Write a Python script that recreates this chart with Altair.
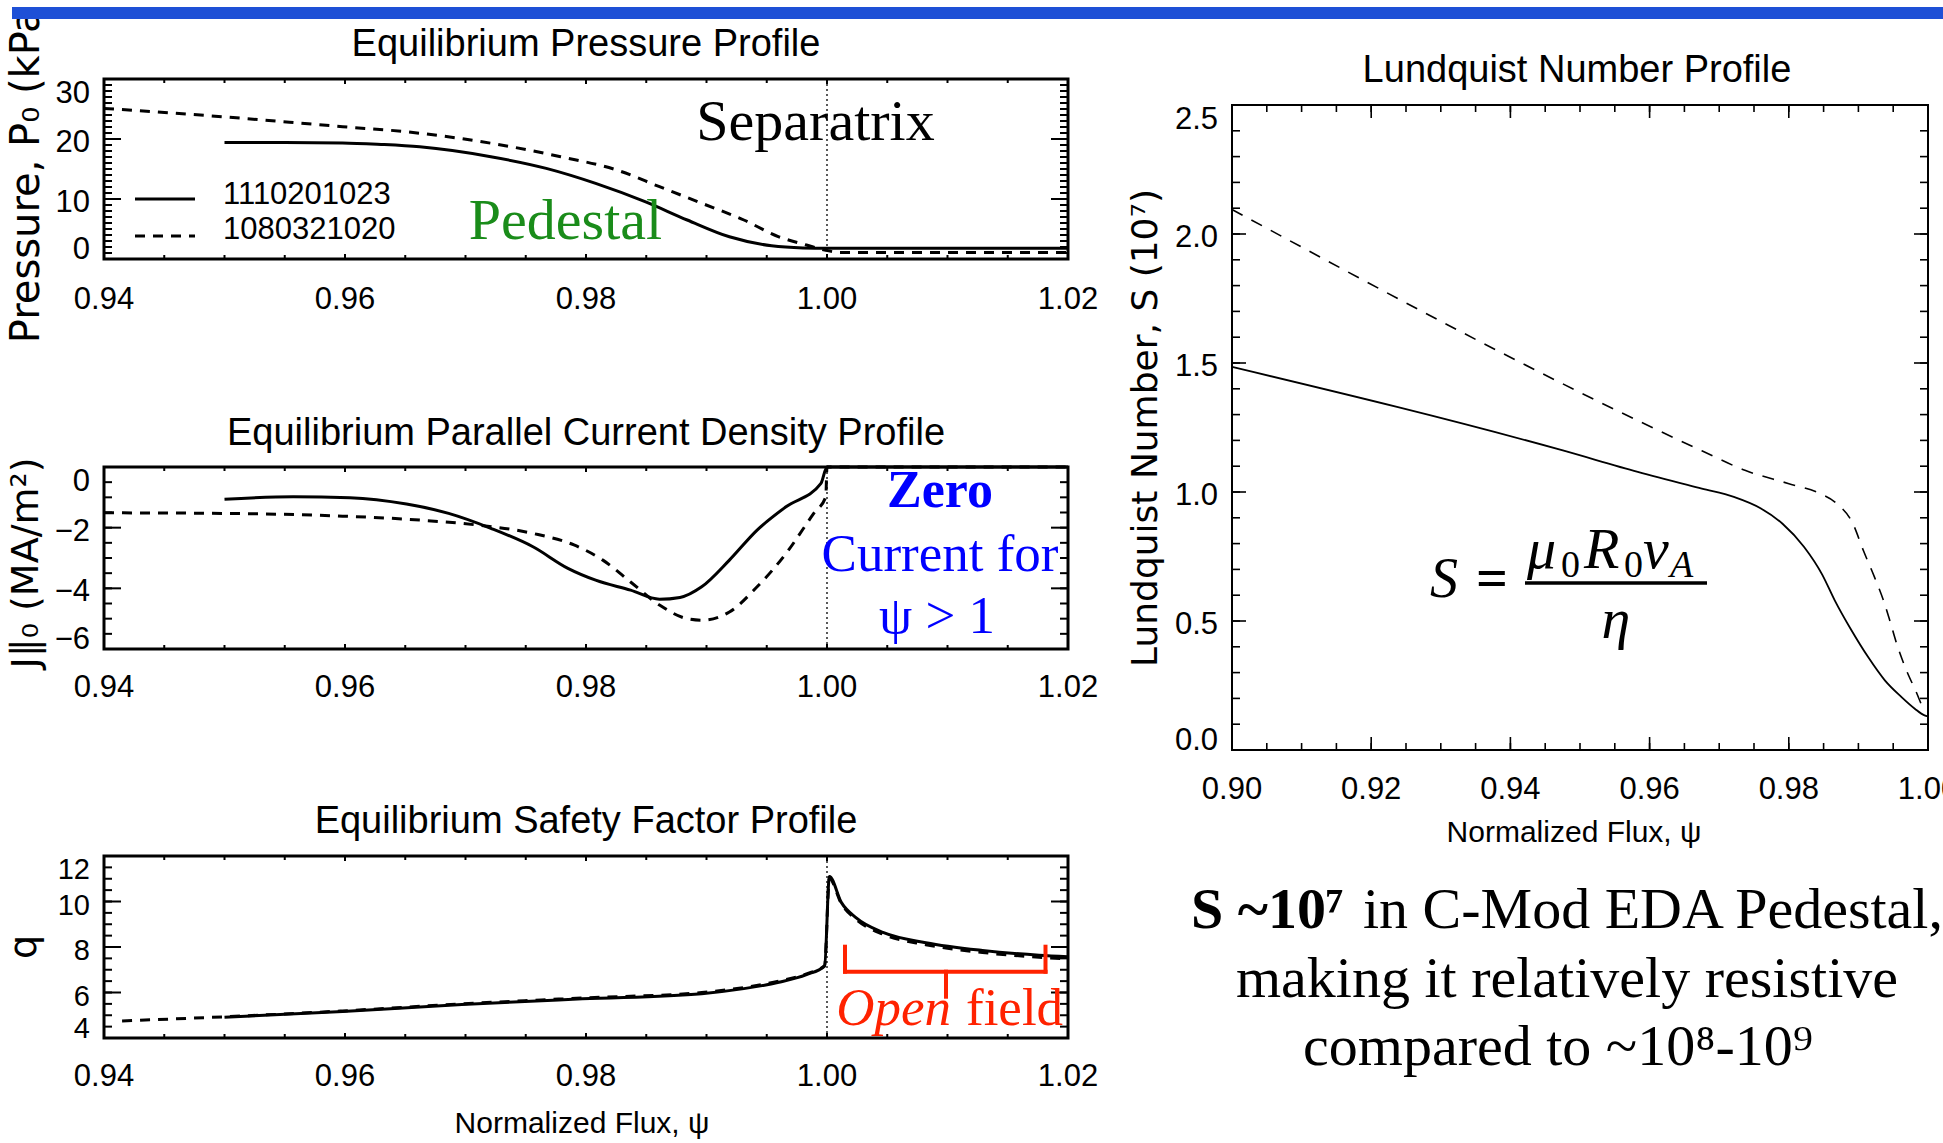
import altair as alt
import pandas as pd

# ---------------- data ----------------
# Equilibrium pressure profile (kPa) vs normalized flux
P_SOLID_PSI = [0.9500, 0.9550, 0.9598, 0.9630, 0.9662, 0.9721, 0.9767, 0.9808, 0.9849, 0.9884, 0.9919, 0.9954, 0.9980, 1.0000, 1.0200]
P_SOLID_VAL = [19.4, 19.4, 19.35, 19.1, 18.7, 17.05, 15.1, 12.6, 9.55, 6.5, 3.7, 2.2, 1.85, 1.8, 1.8]
P_DASH_PSI = [0.9400, 0.9499, 0.9598, 0.9651, 0.9721, 0.9779, 0.9826, 0.9861, 0.9896, 0.9931, 0.9960, 0.9983, 0.9998, 1.0010, 1.0200]
P_DASH_VAL = [25.1, 23.7, 22.05, 21.2, 19.3, 17.05, 14.8, 12.05, 9.3, 6.5, 3.7, 2.33, 1.5, 1.1, 1.1]

# Equilibrium parallel current density (MA/m^2)
J_SOLID_PSI = [0.9500, 0.9557, 0.9604, 0.9651, 0.9686, 0.9721, 0.9756, 0.9785, 0.9808, 0.9837, 0.9861, 0.9878, 0.9896, 0.9919, 0.9942, 0.9966, 0.9995, 1.0000, 1.0200]
J_SOLID_VAL = [-1.06, -0.98, -1.01, -1.22, -1.53, -2.02, -2.63, -3.34, -3.73, -4.06, -4.36, -4.30, -3.95, -3.07, -2.08, -1.31, -0.54, 0.0, 0.0]
J_DASH_PSI = [0.9400, 0.9499, 0.9598, 0.9662, 0.9709, 0.9756, 0.9790, 0.9814, 0.9837, 0.9861, 0.9884, 0.9896, 0.9919, 0.9942, 0.9966, 0.9989, 0.9999, 1.0000, 1.0200]
J_DASH_VAL = [-1.51, -1.53, -1.62, -1.75, -1.91, -2.19, -2.57, -3.07, -3.79, -4.55, -5.00, -5.05, -4.78, -3.95, -2.85, -1.53, -0.98, 0.0, 0.0]

# Equilibrium safety factor q
Q_SOLID_PSI = [0.9500, 0.9598, 0.9697, 0.9797, 0.9896, 0.9931, 0.9960, 0.9983, 0.9998, 1.0002, 1.0012, 1.0024, 1.0047, 1.0082, 1.0129, 1.0176, 1.0200]
Q_SOLID_VAL = [4.91, 5.17, 5.47, 5.72, 5.95, 6.17, 6.45, 6.79, 7.16, 11.10, 9.95, 9.29, 8.63, 8.19, 7.85, 7.64, 7.57]
Q_DASH_PSI = [0.9415, 0.9499, 0.9598, 0.9697, 0.9797, 0.9896, 0.9931, 0.9960, 0.9983, 0.9998, 1.0002, 1.0012, 1.0024, 1.0047, 1.0082, 1.0129, 1.0176, 1.0200]
Q_DASH_VAL = [4.75, 4.93, 5.19, 5.50, 5.76, 6.00, 6.22, 6.50, 6.82, 7.18, 11.0, 9.90, 9.22, 8.55, 8.10, 7.76, 7.55, 7.48]

# Lundquist number S (units of 1e7)
S_SOLID_PSI = [0.9000, 0.9474, 0.9583, 0.9675, 0.9721, 0.9760, 0.9791, 0.9822, 0.9848, 0.9866, 0.9890, 0.9914, 0.9938, 0.9962, 0.9981, 0.9995, 1.0000]
S_SOLID_VAL = [1.485, 1.162, 1.078, 1.013, 0.981, 0.936, 0.877, 0.787, 0.680, 0.580, 0.464, 0.360, 0.270, 0.205, 0.160, 0.134, 0.130]
S_DASH_PSI = [0.9000, 0.9675, 0.9737, 0.9799, 0.9845, 0.9869, 0.9892, 0.9907, 0.9923, 0.9936, 0.9945, 0.9955, 0.9969, 0.9984, 0.9991]
S_DASH_VAL = [2.095, 1.160, 1.084, 1.033, 0.994, 0.955, 0.878, 0.774, 0.671, 0.580, 0.503, 0.412, 0.309, 0.219, 0.173]

SHOTS = ["1110201023", "1080321020"]

# tick values
LEFT_X_MAJOR = [0.94, 0.96, 0.98, 1.00, 1.02]
LEFT_X_MINOR = [round(0.94 + 0.005 * i, 3) for i in range(17)]
P_Y_MAJOR = [0, 10, 20, 30]
P_Y_MINOR = list(range(0, 31))
J_Y_MAJOR = [-6, -4, -2, 0]
J_Y_MINOR = [-6 + 0.5 * i for i in range(13)]
Q_Y_MAJOR = [4, 6, 8, 10, 12]
Q_Y_MINOR = [4 + 0.5 * i for i in range(17)]
S_X_MAJOR = [0.90, 0.92, 0.94, 0.96, 0.98, 1.00]
S_X_MINOR = [round(0.90 + 0.005 * i, 3) for i in range(21)]
S_Y_MAJOR = [0.0, 0.5, 1.0, 1.5, 2.0, 2.5]
S_Y_MINOR = [round(0.1 * i, 1) for i in range(26)]

# ---------------- style / layout ----------------
SERIF = "Liberation Serif"
SANS = "Liberation Sans"
WIDE = "DejaVu Sans"
BLUEBAR = "#1E50D6"
GREEN = "#1A8C1A"
RED = "#FF2200"
TXTBLUE = "#0000FF"
W, H = 1943, 1143

# plot boxes (left, right, top, bottom) in pixels
BOX_P = (104, 1068, 79, 259)
BOX_J = (104, 1068, 467, 649)
BOX_Q = (104, 1068, 856, 1038)
BOX_S = (1232, 1928, 105, 750)

layers = []


def scales(xdom, ydom, box):
    l, r, t, b = box
    xs = alt.Scale(domain=xdom, range=[l, r], nice=False, zero=False)
    ys = alt.Scale(domain=ydom, range=[b, t], nice=False, zero=False)
    return xs, ys


def one(**cols):
    return pd.DataFrame({k: [v] for k, v in cols.items()})


def series(psi, val, xs, ys, dash=None, width=3.0):
    df = pd.DataFrame({"psi": psi, "val": val})
    kw = dict(color="black", strokeWidth=width, interpolate="monotone")
    if dash:
        kw["strokeDash"] = dash
    return alt.Chart(df).mark_line(**kw).encode(
        x=alt.X("psi:Q", scale=xs, axis=None),
        y=alt.Y("val:Q", scale=ys, axis=None))


def frame(box, sw):
    l, r, t, b = box
    return alt.Chart(one(a=0)).mark_rect(filled=False, stroke="black", strokeWidth=sw).encode(
        x=alt.value(l), x2=alt.value(r), y=alt.value(t), y2=alt.value(b))


def ticks(xs, ys, box, xmaj, xmin, ymaj, ymin, xl, yl, sw):
    l, r, t, b = box
    out = []
    for vals, ln in ((xmin, xl[1]), (xmaj, xl[0])):
        base = alt.Chart(pd.DataFrame({"t": vals})).mark_rule(color="black", strokeWidth=sw)
        out.append(base.encode(x=alt.X("t:Q", scale=xs, axis=None), y=alt.value(b), y2=alt.value(b - ln)))
        out.append(base.encode(x=alt.X("t:Q", scale=xs, axis=None), y=alt.value(t), y2=alt.value(t + ln)))
    for vals, ln in ((ymin, yl[1]), (ymaj, yl[0])):
        base = alt.Chart(pd.DataFrame({"t": vals})).mark_rule(color="black", strokeWidth=sw)
        out.append(base.encode(y=alt.Y("t:Q", scale=ys, axis=None), x=alt.value(l), x2=alt.value(l + ln)))
        out.append(base.encode(y=alt.Y("t:Q", scale=ys, axis=None), x=alt.value(r - ln), x2=alt.value(r)))
    return out


def xlabels(xs, vals, y, fmt, size=31):
    return alt.Chart(pd.DataFrame({"t": vals})).mark_text(
        font=SANS, fontSize=size, align="center", baseline="middle", color="black").encode(
        x=alt.X("t:Q", scale=xs, axis=None), y=alt.value(y), text=alt.Text("t:Q", format=fmt))


def ylabels(ys, vals, x, fmt, size=31):
    # IDL keeps the end labels inside the frame: top label hangs, bottom label sits
    out = []
    groups = ((vals[-1:], "top", 0), (vals[1:-1], "middle", 4), (vals[:1], "alphabetic", 0))
    for g, bl, dy in groups:
        out.append(alt.Chart(pd.DataFrame({"t": g})).mark_text(
            font=SANS, fontSize=size, align="right", baseline=bl, dy=dy, color="black").encode(
            y=alt.Y("t:Q", scale=ys, axis=None), x=alt.value(x), text=alt.Text("t:Q", format=fmt)))
    return out


def ptext(x, y, t, **kw):
    kw.setdefault("color", "black")
    return alt.Chart(one(t=t)).mark_text(**kw).encode(x=alt.value(x), y=alt.value(y), text="t:N")


def prule(x, y, x2, y2, **kw):
    return alt.Chart(one(a=0)).mark_rule(**kw).encode(
        x=alt.value(x), y=alt.value(y), x2=alt.value(x2), y2=alt.value(y2))


def sep_line(xs, box):
    l, r, t, b = box
    return alt.Chart(pd.DataFrame({"x": [1.0]})).mark_rule(
        color="black", strokeWidth=1.3, strokeDash=[2, 3]).encode(
        x=alt.X("x:Q", scale=xs, axis=None), y=alt.value(t), y2=alt.value(b))


# ---------------- Pressure panel ----------------
xs, ys = scales([0.94, 1.02], [0, 30], BOX_P)
layers += [
    series(P_SOLID_PSI, P_SOLID_VAL, xs, ys),
    series(P_DASH_PSI, P_DASH_VAL, xs, ys, dash=[10, 8]),
    sep_line(xs, BOX_P),
    *ticks(xs, ys, BOX_P, LEFT_X_MAJOR, LEFT_X_MINOR, P_Y_MAJOR, P_Y_MINOR, (5, 4), (17, 8), 2),
    frame(BOX_P, 3),
    xlabels(xs, LEFT_X_MAJOR, 300, ".2f"),
    *ylabels(ys, P_Y_MAJOR, 90, "d"),
    prule(135, 199, 195, 199, color="black", strokeWidth=3),
    prule(135, 236, 195, 236, color="black", strokeWidth=3, strokeDash=[10, 8]),
    ptext(223, 194.5, SHOTS[0], font=SANS, fontSize=31, align="left", baseline="middle"),
    ptext(223, 230, SHOTS[1], font=SANS, fontSize=31, align="left", baseline="middle"),
    ptext(815.5, 140, "Separatrix", font=SERIF, fontSize=58, align="center", baseline="alphabetic"),
    ptext(565.5, 239, "Pedestal", font=SERIF, fontSize=58, align="center", baseline="alphabetic", color=GREEN),
    ptext(586, 45, "Equilibrium Pressure Profile", font=SANS, fontSize=38, align="center", baseline="middle"),
    ptext(27, 168, "Pressure, P\u2080 (kPa)", font=WIDE, fontSize=40, angle=270, align="center", baseline="middle"),
]

# ---------------- Current panel ----------------
xs, ys = scales([0.94, 1.02], [-6, 0], BOX_J)
layers += [
    series(J_SOLID_PSI, J_SOLID_VAL, xs, ys),
    series(J_DASH_PSI, J_DASH_VAL, xs, ys, dash=[10, 8]),
    sep_line(xs, BOX_J),
    *ticks(xs, ys, BOX_J, LEFT_X_MAJOR, LEFT_X_MINOR, J_Y_MAJOR, J_Y_MINOR, (5, 4), (17, 8), 2),
    frame(BOX_J, 3),
    xlabels(xs, LEFT_X_MAJOR, 688, ".2f"),
    *ylabels(ys, J_Y_MAJOR, 90, "d"),
    ptext(940, 507, "Zero", font=SERIF, fontSize=52, fontWeight="bold", align="center", baseline="alphabetic", color=TXTBLUE),
    ptext(940, 571, "Current for", font=SERIF, fontSize=53, align="center", baseline="alphabetic", color=TXTBLUE),
    ptext(937, 633, "\u03c8 > 1", font=SERIF, fontSize=53, align="center", baseline="alphabetic", color=TXTBLUE),
    ptext(586, 434, "Equilibrium Parallel Current Density Profile", font=SANS, fontSize=38, align="center", baseline="middle"),
    ptext(27, 563, "J\u2225\u2080 (MA/m\u00b2)", font=WIDE, fontSize=38, angle=270, align="center", baseline="middle"),
]

# ---------------- Safety factor panel ----------------
xs, ys = scales([0.94, 1.02], [4, 12], BOX_Q)
layers += [
    series(Q_SOLID_PSI, Q_SOLID_VAL, xs, ys),
    series(Q_DASH_PSI, Q_DASH_VAL, xs, ys, dash=[10, 8]),
    sep_line(xs, BOX_Q),
    *ticks(xs, ys, BOX_Q, LEFT_X_MAJOR, LEFT_X_MINOR, Q_Y_MAJOR, Q_Y_MINOR, (5, 4), (17, 8), 2),
    frame(BOX_Q, 3),
    xlabels(xs, LEFT_X_MAJOR, 1077, ".2f"),
    *ylabels(ys, Q_Y_MAJOR, 90, "d", size=29),
    prule(845, 946.7, 845, 971.7, color=RED, strokeWidth=4, strokeCap="square"),
    prule(845, 971.7, 1045.5, 971.7, color=RED, strokeWidth=4, strokeCap="square"),
    prule(1045.5, 971.7, 1045.5, 946.7, color=RED, strokeWidth=4, strokeCap="square"),
    prule(946, 971.7, 946, 996.7, color=RED, strokeWidth=4, strokeCap="square"),
    ptext(951, 1025, "Open", font=SERIF, fontSize=53, fontStyle="italic", align="right", baseline="alphabetic", color=RED),
    ptext(966, 1025, "field", font=SERIF, fontSize=53, align="left", baseline="alphabetic", color=RED),
    ptext(586, 822, "Equilibrium Safety Factor Profile", font=SANS, fontSize=38, align="center", baseline="middle"),
    ptext(25, 947, "q", font=WIDE, fontSize=38, angle=270, align="center", baseline="middle"),
    ptext(582, 1124, "Normalized Flux, \u03c8", font=SANS, fontSize=30, align="center", baseline="middle"),
]

# ---------------- Lundquist panel ----------------
xs, ys = scales([0.90, 1.00], [0, 2.5], BOX_S)
layers += [
    series(S_SOLID_PSI, S_SOLID_VAL, xs, ys, width=1.8),
    series(S_DASH_PSI, S_DASH_VAL, xs, ys, dash=[12, 10], width=1.6),
    *ticks(xs, ys, BOX_S, S_X_MAJOR, S_X_MINOR, S_Y_MAJOR, S_Y_MINOR, (13, 7), (14, 8), 1.6),
    frame(BOX_S, 2),
    xlabels(xs, S_X_MAJOR, 790, ".2f"),
    *ylabels(ys, S_Y_MAJOR, 1218, ".1f"),
    # formula S = mu0 R0 vA / eta
    ptext(1444, 597, "S", font=SERIF, fontSize=56, fontStyle="italic", align="center", baseline="alphabetic"),
    ptext(1492, 597, "=", font=SERIF, fontSize=56, fontWeight="bold", align="center", baseline="alphabetic"),
    ptext(1527, 568, "\u03bc", font=SERIF, fontSize=58, fontStyle="italic", align="left", baseline="alphabetic"),
    ptext(1561, 577, "0", font=SERIF, fontSize=38, align="left", baseline="alphabetic"),
    ptext(1584, 568, "R", font=SERIF, fontSize=58, fontStyle="italic", align="left", baseline="alphabetic"),
    ptext(1624, 577, "0", font=SERIF, fontSize=38, align="left", baseline="alphabetic"),
    ptext(1643, 568, "v", font=SERIF, fontSize=58, fontStyle="italic", align="left", baseline="alphabetic"),
    ptext(1670, 577, "A", font=SERIF, fontSize=38, fontStyle="italic", align="left", baseline="alphabetic"),
    prule(1525, 583, 1707, 583, color="black", strokeWidth=3.5),
    ptext(1616, 638, "\u03b7", font=SERIF, fontSize=58, fontStyle="italic", align="center", baseline="alphabetic"),
    ptext(1577, 71, "Lundquist Number Profile", font=SANS, fontSize=38, align="center", baseline="middle"),
    ptext(1146, 428, "Lundquist Number, S (10\u2077)", font=WIDE, fontSize=36, angle=270, align="center", baseline="middle"),
    ptext(1574, 833, "Normalized Flux, \u03c8", font=SANS, fontSize=30, align="center", baseline="middle"),
    # summary text
    ptext(1191, 928, "S ~10\u2077", font=SERIF, fontSize=58, fontWeight="bold", align="left", baseline="alphabetic"),
    ptext(1363, 928, "in C-Mod EDA Pedestal,", font=SERIF, fontSize=58, align="left", baseline="alphabetic"),
    ptext(1567, 997, "making it relatively resistive", font=SERIF, fontSize=58, align="center", baseline="alphabetic"),
    ptext(1558, 1065, "compared to ~10\u2078-10\u2079", font=SERIF, fontSize=58, align="center", baseline="alphabetic"),
]

# slide header bar (drawn last, on top)
layers += [
    alt.Chart(one(a=0)).mark_rect(color="white").encode(
        x=alt.value(0), x2=alt.value(W), y=alt.value(0), y2=alt.value(7)),
    alt.Chart(one(a=0)).mark_rect(color=BLUEBAR).encode(
        x=alt.value(12), x2=alt.value(W), y=alt.value(7), y2=alt.value(19)),
]

chart = alt.layer(*layers).resolve_scale(x="independent", y="independent").properties(
    width=W, height=H, padding=0, background="white",
    autosize=alt.AutoSizeParams(type="none"),
).configure_view(strokeWidth=0)

chart.save("out.html", embed_options={"renderer": "svg", "actions": False})
